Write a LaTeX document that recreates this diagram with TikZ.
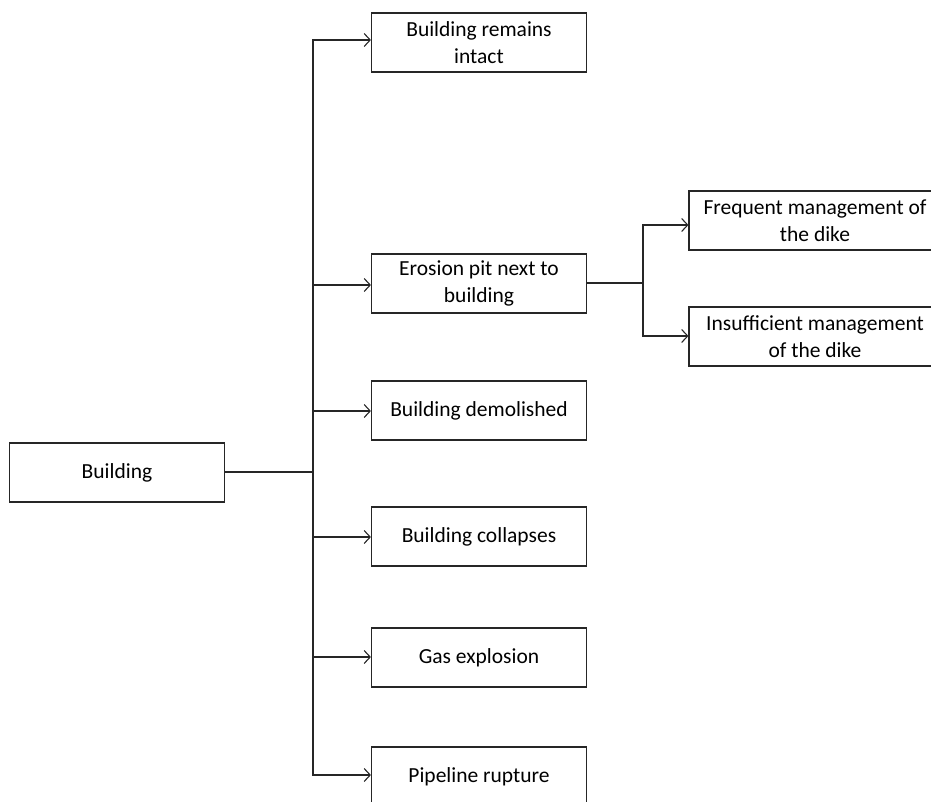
\documentclass[tikz,border=0pt]{standalone}
\usepackage{fontspec}
\setmainfont{Carlito}
\usetikzlibrary{arrows.meta}
\begin{document}
\begin{tikzpicture}[x=1pt,y=-1pt,
  box/.style={draw=black!85,line width=1.2pt,minimum width=215pt,minimum height=59pt,inner sep=0pt,align=center,
    font=\fontsize{21.5}{26.5}\selectfont},
  wbox/.style={box,minimum width=252pt},
  conn/.style={draw=black!85,line width=1.2pt},
  arr/.style={conn,-{Straight Barb[length=6pt,width=13pt,line width=1.1pt]}}]
\useasboundingbox (0,0) rectangle (931,802);
\clip (0,0) rectangle (931,802);
\node[box] (b) at (117,472.5) {Building};
\node[box] (n1) at (479,42.5) {Building remains\\intact};
\node[box] (n2) at (479,283.5) {Erosion pit next to\\building};
\node[box] (n3) at (479,410.5) {\raisebox{-1.5pt}{Building demolished}};
\node[box] (n4) at (479,536.5) {\raisebox{-1.5pt}{Building collapses}};
\node[box] (n5) at (479,657.5) {\raisebox{-1pt}{Gas explosion}};
\node[box] (n6) at (479,776.5) {Pipeline rupture};
\node[wbox] (r1) at (815,220.5) {Frequent management of\\the dike};
\node[wbox] (r2) at (815,336.5) {Insufficient management\\of the dike};
\coordinate (t) at (313,472);
\coordinate (t2) at (643,283);
\draw[conn] (b.east |- t) -- (t);
\foreach \n/\y in {n1/40,n2/285,n3/411,n4/537,n5/657,n6/775}{
  \draw[arr] (t) |- (313,\y) -- (\n.west |- 0,\y);
}
\draw[conn] (n2.east |- t2) -- (t2);
\draw[arr] (t2) |- (643,225) -- (r1.west |- 0,225);
\draw[arr] (t2) |- (643,336) -- (r2.west |- 0,336);
\end{tikzpicture}
\end{document}
